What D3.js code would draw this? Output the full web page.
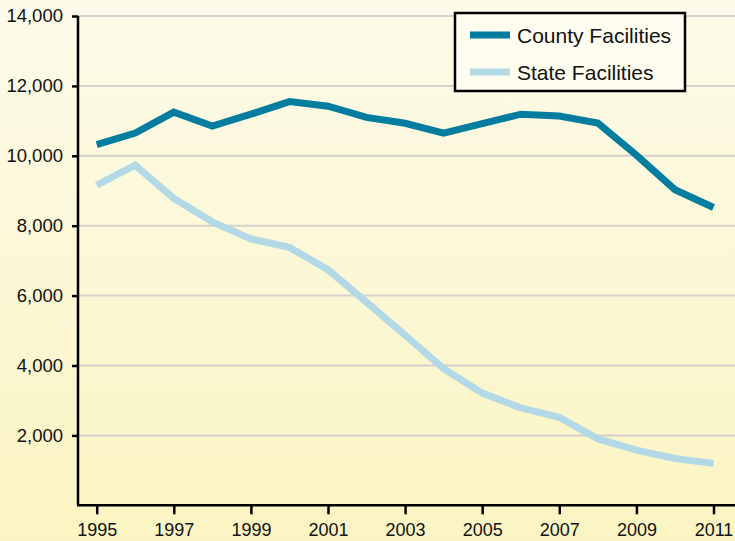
<!DOCTYPE html>
<html>
<head>
<meta charset="utf-8">
<script src="https://cdn.jsdelivr.net/npm/d3@7"></script>
<style>
  html, body { margin: 0; padding: 0; }
  body { width: 735px; height: 541px; overflow: hidden; }
  text { font-family: "Liberation Sans", Arial, Helvetica, sans-serif; }
</style>
</head>
<body>
<div id="chart"></div>
<script>
// years along the bottom
const years = d3.range(1995, 2012);
// county facilities population
const countyValues = [10320, 10650, 11250, 10850, 11190, 11550, 11420, 11100, 10930, 10650, 10920, 11190, 11140, 10940, 10020, 9030, 8520];
// state facilities population
const stateValues = [9160, 9730, 8780, 8110, 7620, 7380, 6740, 5810, 4870, 3910, 3210, 2790, 2520, 1900, 1580, 1340, 1200];
const yTicks = [2000, 4000, 6000, 8000, 10000, 12000, 14000];
const xTicks = [1995, 1997, 1999, 2001, 2003, 2005, 2007, 2009, 2011];
const seriesNames = ["County Facilities", "State Facilities"];
const seriesColors = ["#027d9f", "#b3d9e6"];

const width = 735, height = 541;
const margin = { top: 16, right: 0, bottom: 36, left: 78 };

const svg = d3.select("#chart")
  .append("svg")
  .attr("width", width)
  .attr("height", height);

// background gradient
const grad = svg.append("defs").append("linearGradient")
  .attr("id", "bg").attr("x1", 0).attr("y1", 0).attr("x2", 0).attr("y2", 1);
grad.append("stop").attr("offset", "0%").attr("stop-color", "#fdfbea");
grad.append("stop").attr("offset", "100%").attr("stop-color", "#fbf4c2");
svg.append("rect").attr("width", width).attr("height", height).attr("fill", "url(#bg)");

const x = d3.scaleLinear()
  .domain([1995, 2011])
  .range([96.7, 713.5]);

const y = d3.scaleLinear()
  .domain([0, 14000])
  .range([505.3, 16]);

// gridlines
svg.selectAll(".grid")
  .data(yTicks)
  .join("line")
  .attr("x1", margin.left)
  .attr("x2", width)
  .attr("y1", d => y(d))
  .attr("y2", d => y(d))
  .attr("stroke", "#d3d2cc")
  .attr("stroke-width", 2);

// y axis
const yAxis = svg.append("g")
  .attr("transform", `translate(${margin.left},0)`)
  .call(d3.axisLeft(y).tickValues(yTicks).tickFormat(d3.format(",")).tickSize(6).tickSizeOuter(0).tickPadding(9));
yAxis.select(".domain").attr("stroke", "#000").attr("stroke-width", 2.5)
  .attr("d", `M0,${y(14000)}V${y(0)}`);
yAxis.selectAll(".tick line").attr("stroke", "#000").attr("stroke-width", 2.5);
yAxis.selectAll(".tick text").attr("font-size", 18.5).attr("fill", "#111")
  .attr("font-family", "'Liberation Sans', Arial, sans-serif");

// x axis
const xAxis = svg.append("g")
  .attr("transform", `translate(0,${y(0)})`)
  .call(d3.axisBottom(x).tickValues(xTicks).tickFormat(d3.format("d")).tickSize(9).tickSizeOuter(0).tickPadding(9));
xAxis.select(".domain").attr("stroke", "#000").attr("stroke-width", 2.5)
  .attr("d", `M${margin.left - 1},0H${width}`);
xAxis.selectAll(".tick line").attr("stroke", "#000").attr("stroke-width", 2.5);
xAxis.selectAll(".tick text").attr("font-size", 18).attr("fill", "#111")
  .attr("font-family", "'Liberation Sans', Arial, sans-serif");

// lines
const line = d3.line()
  .x((d, i) => x(years[i]))
  .y(d => y(d));

[countyValues, stateValues].forEach((vals, k) => {
  svg.append("path")
    .datum(vals)
    .attr("d", line)
    .attr("fill", "none")
    .attr("stroke", seriesColors[k])
    .attr("stroke-width", 7)
    .attr("stroke-linejoin", "miter");
});

// legend
const legend = svg.append("g");
legend.append("rect")
  .attr("x", 455).attr("y", 13)
  .attr("width", 230).attr("height", 78)
  .attr("fill", "#fffdf0")
  .attr("stroke", "#000")
  .attr("stroke-width", 2.5);

seriesNames.forEach((name, i) => {
  const ly = 35 + i * 37;
  legend.append("line")
    .attr("x1", 470).attr("x2", 510)
    .attr("y1", ly).attr("y2", ly)
    .attr("stroke", seriesColors[i])
    .attr("stroke-width", 7);
  legend.append("text")
    .attr("x", 517).attr("y", ly + 8)
    .attr("font-size", 21)
    .attr("fill", "#111")
    .text(name);
});
</script>
</body>
</html>
